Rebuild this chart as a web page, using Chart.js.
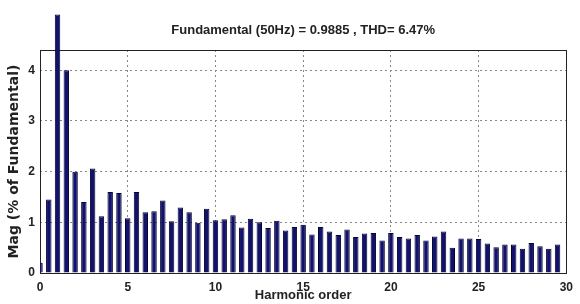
<!DOCTYPE html>
<html>
<head>
<meta charset="utf-8">
<script src="https://cdn.jsdelivr.net/npm/chart.js@4.4.0/dist/chart.umd.min.js"></script>
<style>
  html, body { margin: 0; padding: 0; background: #fff; }
</style>
</head>
<body>
<canvas id="spectrum" width="580" height="304"></canvas>
<script>
// harmonic order of each bar (half-order steps)
const harmonicOrder = [
  0, 0.5, 1, 1.5, 2, 2.5, 3, 3.5, 4, 4.5,
  5, 5.5, 6, 6.5, 7, 7.5, 8, 8.5, 9, 9.5,
  10, 10.5, 11, 11.5, 12, 12.5, 13, 13.5, 14, 14.5,
  15, 15.5, 16, 16.5, 17, 17.5, 18, 18.5, 19, 19.5,
  20, 20.5, 21, 21.5, 22, 22.5, 23, 23.5, 24, 24.5,
  25, 25.5, 26, 26.5, 27, 27.5, 28, 28.5, 29, 29.5
];
// magnitude, % of fundamental
const magnitude = [
  0.2, 1.45, 5.1, 4.0, 2.0, 1.4, 2.06, 1.12, 1.6, 1.58,
  1.08, 1.6, 1.2, 1.22, 1.43, 1.02, 1.29, 1.2, 0.99, 1.27,
  1.04, 1.06, 1.14, 0.9, 1.07, 1.0, 0.89, 1.03, 0.84, 0.91,
  0.95, 0.76, 0.91, 0.82, 0.75, 0.86, 0.71, 0.78, 0.79, 0.64,
  0.79, 0.71, 0.68, 0.75, 0.64, 0.72, 0.82, 0.5, 0.68, 0.68,
  0.67, 0.58, 0.51, 0.56, 0.56, 0.48, 0.59, 0.53, 0.48, 0.56
];
const xTicks = [0, 5, 10, 15, 20, 25, 30];
const yTicks = [0, 1, 2, 3, 4];
const titleText = 'Fundamental (50Hz) = 0.9885 , THD= 6.47%';

// box around the axes + title over the plot area
const frameAndTitle = {
  id: 'frameAndTitle',
  beforeDatasetsDraw(chart) {
    const { ctx, chartArea: a } = chart;
    ctx.save();
    ctx.strokeStyle = '#222';
    ctx.lineWidth = 1;
    ctx.strokeRect(Math.round(a.left) + 0.5, Math.round(a.top) + 0.5,
      Math.round(a.right - a.left), Math.round(a.bottom - a.top));
    ctx.restore();
  },
  afterDraw(chart) {
    const { ctx, chartArea: a } = chart;
    ctx.save();
    ctx.font = 'bold 13px "Liberation Sans", Arial, sans-serif';
    ctx.fillStyle = '#222';
    ctx.textAlign = 'center';
    ctx.textBaseline = 'middle';
    ctx.fillText(titleText, (a.left + a.right) / 2, 30);
    ctx.restore();
  }
};

const tickFont = { family: '"Liberation Sans", Arial, sans-serif', size: 12, weight: 'bold' };

new Chart(document.getElementById('spectrum').getContext('2d'), {
  type: 'bar',
  data: {
    datasets: [{
      data: harmonicOrder.map((h, i) => ({ x: h, y: magnitude[i] })),
      backgroundColor: '#12126e',
      borderColor: '#04042a',
      borderWidth: 1,
      categoryPercentage: 1,
      barPercentage: 0.62,
      clip: { left: 0, top: false, right: 0, bottom: 0 }
    }]
  },
  options: {
    responsive: false,
    animation: false,
    layout: { padding: { top: 50, right: 9, left: 0, bottom: 0 } },
    plugins: {
      legend: { display: false },
      tooltip: { enabled: false }
    },
    scales: {
      x: {
        type: 'linear',
        min: 0,
        max: 30,
        offset: false,
        afterBuildTicks: s => { s.ticks = xTicks.map(v => ({ value: v })); },
        afterFit: s => { s.height = 31; },
        grid: { offset: false, drawTicks: false, color: '#888', lineWidth: 1 },
        border: { display: false, dash: [2, 3] },
        ticks: { padding: 7, color: '#222', font: tickFont, maxRotation: 0 },
        title: {
          display: true,
          text: 'Harmonic order',
          color: '#222',
          font: { family: '"Liberation Sans", Arial, sans-serif', size: 13, weight: 'bold' },
          padding: { top: 0, bottom: 1 }
        }
      },
      y: {
        min: 0,
        max: 4.4,
        afterBuildTicks: s => { s.ticks = yTicks.map(v => ({ value: v })); },
        afterFit: s => { s.width = 40; },
        grid: { drawTicks: false, color: '#888', lineWidth: 1 },
        border: { display: false, dash: [2, 3] },
        ticks: { padding: 5, color: '#222', font: tickFont },
        title: {
          display: true,
          text: 'Mag (% of Fundamental)',
          color: '#222',
          font: { family: '"DejaVu Sans", sans-serif', size: 14, weight: 'bold' },
          padding: { top: 6, bottom: 0 }
        }
      }
    }
  },
  plugins: [frameAndTitle]
});
</script>
</body>
</html>
